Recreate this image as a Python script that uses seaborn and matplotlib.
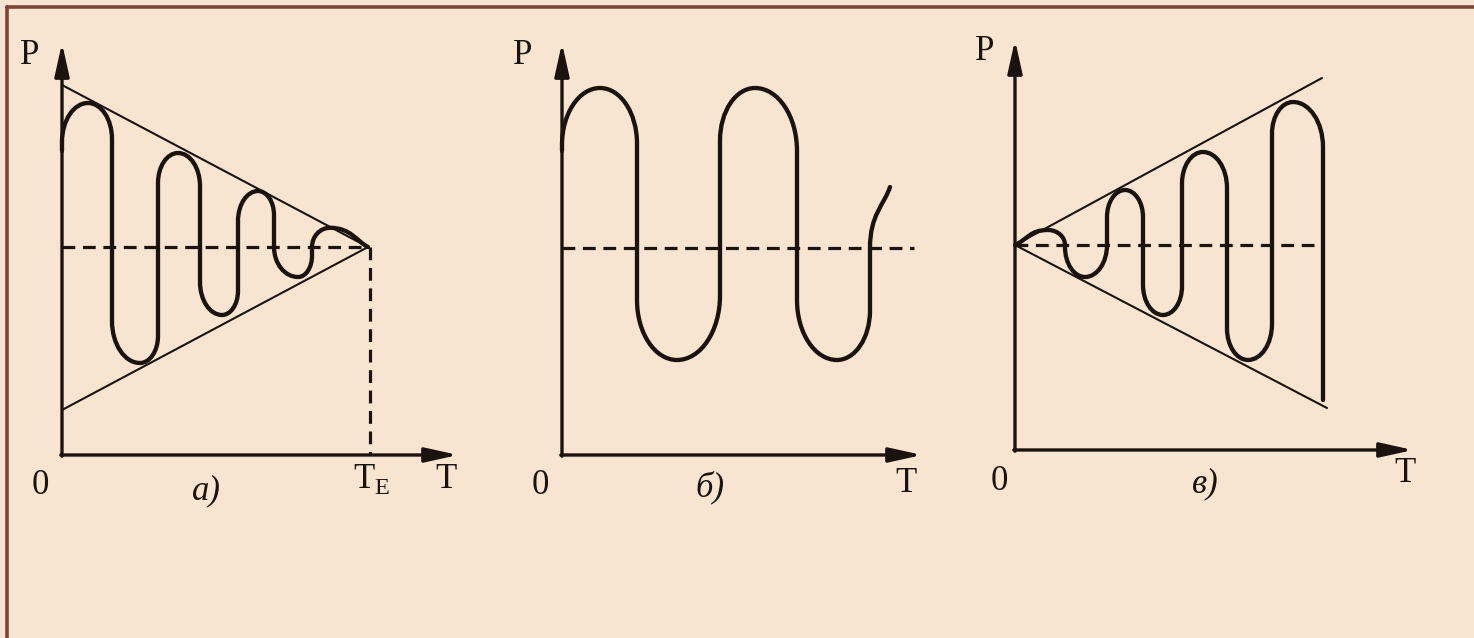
import numpy as np
import matplotlib
matplotlib.use("Agg")
import matplotlib.pyplot as plt
from matplotlib.path import Path
from matplotlib.patches import PathPatch
from matplotlib.lines import Line2D
import seaborn as sns

# panel а) - damped oscillation (key points: start, extrema, crossings, end)
a_x = [0, 0.65, 1.25, 1.95, 2.4, 2.9, 3.45, 4.0, 4.4, 4.9, 5.3, 5.9, 6.25, 6.7, 7.65]
a_y = [7.6, 8.8, 5.2, 2.3, 5.2, 7.55, 5.2, 3.5, 5.2, 6.6, 5.2, 4.45, 5.2, 5.68, 5.2]
a_kind = "cecececececece" + "f"
a_level = 5.2
a_upper = ([0, 7.65], [9.25, 5.2])
a_lower = ([0, 7.65], [1.125, 5.2])
a_te = 7.7

# panel б) - sustained oscillation
b_x = [0, 0.95, 1.875, 2.875, 3.95, 4.825, 5.875, 6.875, 7.7, 8.2]
b_y = [7.6, 9.175, 5.175, 2.375, 5.175, 9.175, 5.175, 2.375, 5.175, 6.7]
b_kind = "cecececec" + "f"
b_level = 5.175
b_level_end = 8.8

# panel в) - growing oscillation
c_x = [0, 0.825, 1.25, 1.75, 2.3, 2.75, 3.2, 3.7, 4.175, 4.7, 5.3, 5.825, 6.425, 6.95, 7.7]
c_y = [5.125, 5.5, 5.125, 4.325, 5.125, 6.5, 5.125, 3.375, 5.125, 7.45, 5.125, 2.25, 5.125, 8.7, 1.25]
c_kind = "f" + "ecececececece" + "c"
c_level = 5.125
c_upper = ([0, 7.675], [5.125, 9.3])
c_lower = ([0, 7.8], [5.125, 1.05])

INK = "#1a1310"
BG = "#f8e5d1"
K = 0.5523
RATIO = 1.5


def wave_path(xs, ys, kinds):
    # c = vertical tangent (side), e = extremum, f = free end
    verts = [(xs[0], ys[0])]
    codes = [Path.MOVETO]
    for i in range(1, len(xs)):
        x0, y0, x1, y1 = xs[i - 1], ys[i - 1], xs[i], ys[i]
        a, b = kinds[i - 1], kinds[i]
        dx, dy = x1 - x0, y1 - y0
        s = np.sign(dy)
        if a == "c" and b == "e":
            ry = min(abs(dy), RATIO * abs(dx))
            ym = y1 - s * ry
            if abs(ym - y0) > 1e-9:
                verts.append((x0, ym)); codes.append(Path.LINETO)
            verts += [(x0, ym + s * K * ry), (x1 - K * dx, y1), (x1, y1)]
            codes += [Path.CURVE4] * 3
        elif a == "e" and b == "c":
            ry = min(abs(dy), RATIO * abs(dx))
            ym = y0 + s * ry
            verts += [(x0 + K * dx, y0), (x1, ym - s * K * ry), (x1, ym)]
            codes += [Path.CURVE4] * 3
            if abs(ym - y1) > 1e-9:
                verts.append((x1, y1)); codes.append(Path.LINETO)
        else:
            if a == "e":
                c1 = (x0 + K * dx, y0)
            elif a == "c":
                c1 = (x0, y0 + K * dy)
            else:
                c1 = (x0 + 0.4 * dx, y0 + 0.4 * dy)
            if b == "e":
                c2 = (x1 - K * dx, y1)
            else:
                c2 = (x1 - 0.3 * dx, y1 - 0.3 * dy)
            verts += [c1, c2, (x1, y1)]
            codes += [Path.CURVE4] * 3
    return Path(verts, codes)


sns.set_theme(style="white")
plt.rcParams["font.family"] = ["Liberation Serif", "DejaVu Serif"]
plt.rcParams["mathtext.fontset"] = "custom"
plt.rcParams["mathtext.rm"] = "Liberation Serif"

W, H = 1474, 638
fig = plt.figure(figsize=(W / 100, H / 100), dpi=100, facecolor=BG)
UNIT = 40  # px per data unit


def make_axes(ox, oy):
    xl, xr, yb, yt = -1.5, 11.0, -4.0, 11.2
    left = (ox + xl * UNIT) / W
    bottom = (H - (oy - yb * UNIT)) / H
    ax = fig.add_axes([left, bottom, (xr - xl) * UNIT / W, (yt - yb) * UNIT / H])
    ax.set_xlim(xl, xr)
    ax.set_ylim(yb, yt)
    ax.set_axis_off()
    ax.patch.set_alpha(0)
    return ax


def draw_axes(ax, xtip, ytip):
    arrow = dict(arrowstyle="-|>,head_length=0.9,head_width=0.2", lw=2.4, color=INK,
                 mutation_scale=22, shrinkA=0, shrinkB=0)
    ax.annotate("", xy=(0, ytip), xytext=(0, -0.03), arrowprops=arrow)
    ax.annotate("", xy=(xtip, 0), xytext=(-0.03, 0), arrowprops=arrow)


def dashed(ax, xs, ys):
    sns.lineplot(x=xs, y=ys, ax=ax, color=INK, lw=2.3, linestyle=(0, (4, 2.4)),
                 sort=False, estimator=None)


def thin(ax, xs, ys):
    sns.lineplot(x=xs, y=ys, ax=ax, color=INK, lw=1.5, sort=False, estimator=None)


def wave(ax, xs, ys, kinds):
    ax.add_patch(PathPatch(wave_path(xs, ys, kinds), fill=False, ec=INK, lw=3.1,
                           capstyle="round", joinstyle="round"))


lab = dict(fontsize=25, color=INK, ha="center", va="center")

# а)
ax = make_axes(62, 455)
draw_axes(ax, 9.9, 10.3)
thin(ax, *a_upper)
thin(ax, *a_lower)
dashed(ax, [0, a_upper[0][1]], [a_level, a_level])
dashed(ax, [a_te, a_te], [a_level, 0])
wave(ax, a_x, a_y, a_kind)
ax.text(-0.8, 10.0, "P", **lab)
ax.text(-0.55, -0.75, "0", **lab)
ax.text(9.6, -0.6, "T", **lab)
ax.text(7.75, -0.6, r"$\mathrm{T}_{\mathrm{E}}$", **lab)
ax.text(3.6, -0.9, "а)", style="italic", **lab)

# б)
ax = make_axes(562, 455)
draw_axes(ax, 9.0, 10.3)
dashed(ax, [0, b_level_end], [b_level, b_level])
wave(ax, b_x, b_y, b_kind)
ax.text(-0.975, 10.0, "P", **lab)
ax.text(-0.55, -0.75, "0", **lab)
ax.text(8.6, -0.7, "T", **lab)
ax.text(3.7, -0.8, "б)", style="italic", **lab)

# в)
ax = make_axes(1015, 450)
draw_axes(ax, 9.95, 10.25)
thin(ax, *c_upper)
thin(ax, *c_lower)
dashed(ax, [0, c_x[-1]], [c_level, c_level])
wave(ax, c_x, c_y, c_kind)
ax.text(-0.75, 9.95, "P", **lab)
ax.text(-0.4, -0.8, "0", **lab)
ax.text(9.75, -0.6, "T", **lab)
ax.text(4.75, -0.85, "в)", style="italic", **lab)

# slide frame
fig.add_artist(Line2D([6.5 / W, 6.5 / W], [0, 1 - 6.5 / H], color="#7b4535", lw=2.6,
                      transform=fig.transFigure))
fig.add_artist(Line2D([6.5 / W, 1], [1 - 6.5 / H, 1 - 6.5 / H], color="#7b4535", lw=2.6,
                      transform=fig.transFigure))

fig.savefig("out.png", dpi=100, facecolor=BG)
